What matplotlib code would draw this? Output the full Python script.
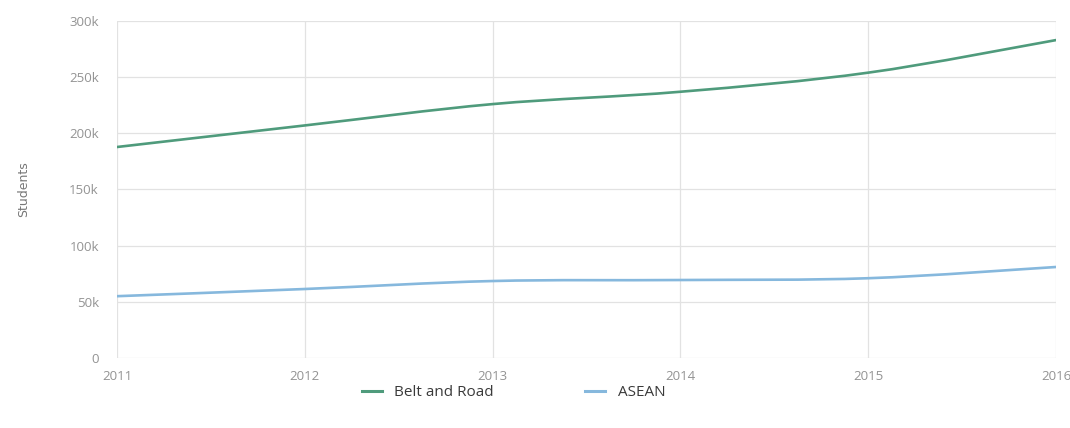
import matplotlib
matplotlib.use("Agg")
import matplotlib.pyplot as plt
from matplotlib.path import Path
from matplotlib.patches import PathPatch
from matplotlib.lines import Line2D
import numpy as np

years = [2011, 2012, 2013, 2014, 2015, 2016]
belt_and_road = [187800, 207000, 226000, 237000, 254000, 283000]
asean = [55000, 61400, 68500, 69400, 71000, 81000]

y_ticks = [0, 50000, 100000, 150000, 200000, 250000, 300000]
y_tick_labels = ["0", "50k", "100k", "150k", "200k", "250k", "300k"]

GREEN = "#4f9b7c"
BLUE = "#86b8dd"
TEXT = "#939393"
GRID = "#e2e2e2"


def smooth_path(xs, ys, tension=0.5):
    # cubic bezier segments through the data points (catmull-rom style)
    xs = np.asarray(xs, float)
    ys = np.asarray(ys, float)
    n = len(xs)
    verts = [(xs[0], ys[0])]
    codes = [Path.MOVETO]
    for i in range(n - 1):
        x0, y0 = (xs[i - 1], ys[i - 1]) if i > 0 else (xs[i], ys[i])
        x3, y3 = (xs[i + 2], ys[i + 2]) if i + 2 < n else (xs[i + 1], ys[i + 1])
        c1 = (xs[i] + (xs[i + 1] - x0) * tension / 3,
              ys[i] + (ys[i + 1] - y0) * tension / 3)
        c2 = (xs[i + 1] - (x3 - xs[i]) * tension / 3,
              ys[i + 1] - (y3 - ys[i]) * tension / 3)
        verts += [c1, c2, (xs[i + 1], ys[i + 1])]
        codes += [Path.CURVE4] * 3
    return Path(verts, codes)


plt.rcParams['font.family'] = ['Open Sans', 'DejaVu Sans']

fig = plt.figure(figsize=(10.7, 4.28), dpi=100)
ax = fig.add_axes([0.1093, 0.1636, 0.8777, 0.7874])

for vals, col in [(belt_and_road, GREEN), (asean, BLUE)]:
    patch = PathPatch(smooth_path(years, vals), facecolor="none",
                      edgecolor=col, lw=1.9, capstyle="round", zorder=3)
    ax.add_patch(patch)

ax.set_xlim(years[0], years[-1])
ax.set_ylim(0, 300000)
ax.set_xticks(years)
ax.set_xticklabels([str(y) for y in years])
ax.set_yticks(y_ticks)
ax.set_yticklabels(y_tick_labels)

ax.grid(True, color=GRID, lw=0.9)
ax.set_axisbelow(True)
for s in ax.spines.values():
    s.set_visible(False)
ax.tick_params(length=0, colors=TEXT, labelsize=9.5)
ax.tick_params(axis="x", pad=9)
ax.tick_params(axis="y", pad=13)

ax.set_ylabel("Students", color="#777777", fontsize=9, labelpad=28,
              family=["Liberation Sans Narrow", "DejaVu Sans"])

handles = [Line2D([], [], color=GREEN, lw=2.2),
           Line2D([], [], color=BLUE, lw=2.2)]
fig.legend(handles, ["Belt and Road", "ASEAN"], loc="center",
           bbox_to_anchor=(0.48, 0.082), ncol=2, frameon=False,
           fontsize=11, handlelength=1.3, handletextpad=0.8,
           columnspacing=6.0, labelcolor="#3a3a3a")

fig.savefig("out.png", dpi=100)
